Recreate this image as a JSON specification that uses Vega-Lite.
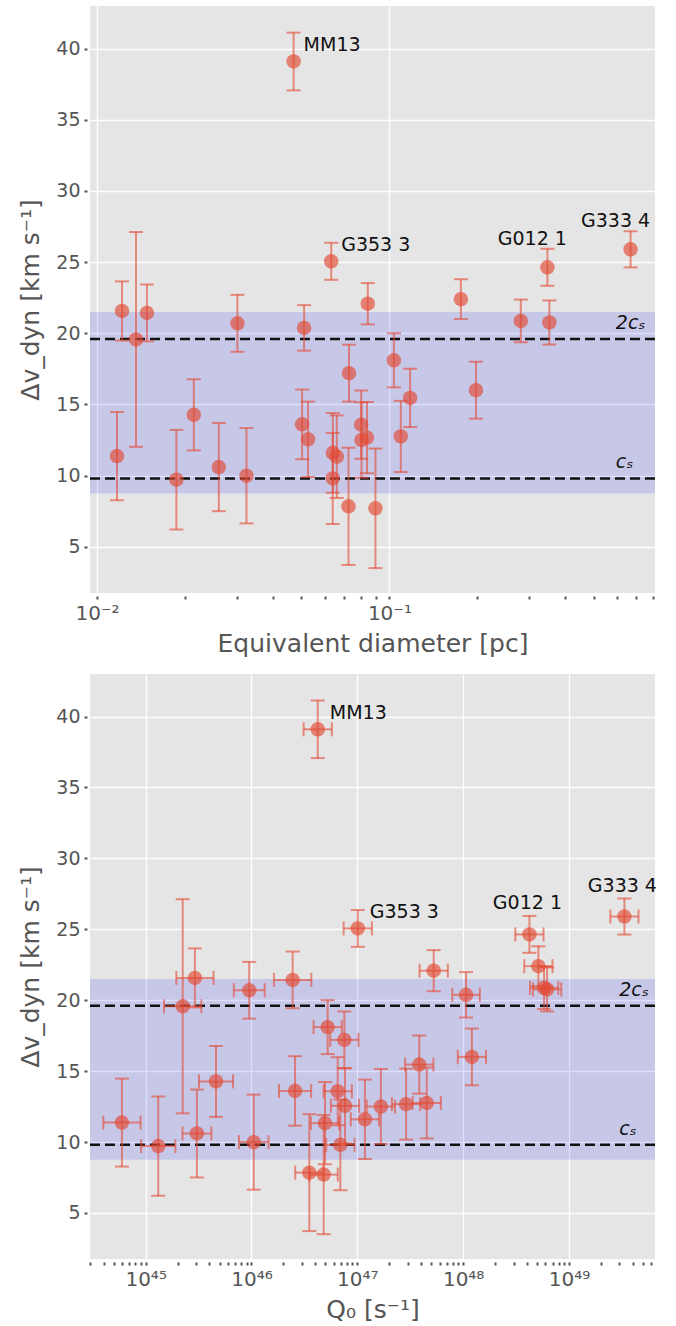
{
  "$schema": "https://vega.github.io/schema/vega-lite/v6.json",
  "background": "white",
  "padding": {"left": 18, "top": 6, "right": 5, "bottom": 5},
  "spacing": 18,
  "config": {
    "font": "DejaVu Sans",
    "view": {"fill": "#e5e5e5", "stroke": null},
    "axis": {
      "labelFont": "DejaVu Sans", "labelFontSize": 19, "labelColor": "#555555",
      "titleFont": "DejaVu Sans", "titleFontSize": 25, "titleFontWeight": "normal", "titleColor": "#555555",
      "domain": false, "gridColor": "#ffffff", "gridWidth": 1.3,
      "tickColor": "#555555", "tickSize": 6, "tickWidth": 2, "tickDash": [0, 3, 2]
    }
  },
  "datasets": {
    "pts": [
      {"d": 0.0117, "Q": 5.97e44, "Qlo": 3.98e44, "Qhi": 8.96e44, "v": 11.37, "vlo": 8.27, "vhi": 14.47, "name": ""},
      {"d": 0.01217, "Q": 2.92e45, "Qlo": 1.95e45, "Qhi": 4.38e45, "v": 21.57, "vlo": 19.49, "vhi": 23.65, "name": ""},
      {"d": 0.01359, "Q": 2.24e45, "Qlo": 1.49e45, "Qhi": 3.36e45, "v": 19.57, "vlo": 12.02, "vhi": 27.12, "name": ""},
      {"d": 0.01481, "Q": 2.45e46, "Qlo": 1.63e46, "Qhi": 3.68e46, "v": 21.43, "vlo": 19.43, "vhi": 23.43, "name": ""},
      {"d": 0.01868, "Q": 1.315e45, "Qlo": 9.07e44, "Qhi": 1.91e45, "v": 9.71, "vlo": 6.21, "vhi": 13.21, "name": ""},
      {"d": 0.02143, "Q": 4.62e45, "Qlo": 3.19e45, "Qhi": 6.70e45, "v": 14.27, "vlo": 11.77, "vhi": 16.77, "name": ""},
      {"d": 0.02609, "Q": 3.05e45, "Qlo": 2.23e45, "Qhi": 4.18e45, "v": 10.6, "vlo": 7.5, "vhi": 13.7, "name": ""},
      {"d": 0.03021, "Q": 9.53e45, "Qlo": 6.81e45, "Qhi": 1.334e46, "v": 20.7, "vlo": 18.7, "vhi": 22.7, "name": ""},
      {"d": 0.03244, "Q": 1.05e46, "Qlo": 7.61e45, "Qhi": 1.449e46, "v": 9.99, "vlo": 6.64, "vhi": 13.34, "name": ""},
      {"d": 0.04703, "Q": 4.23e46, "Qlo": 3.11e46, "Qhi": 5.75e46, "v": 39.1, "vlo": 37.07, "vhi": 41.13, "name": "MM13"},
      {"d": 0.05108, "Q": 1.065e48, "Qlo": 7.89e47, "Qhi": 1.438e48, "v": 20.38, "vlo": 18.78, "vhi": 21.98, "name": ""},
      {"d": 0.05028, "Q": 2.58e46, "Qlo": 1.82e46, "Qhi": 3.66e46, "v": 13.6, "vlo": 11.15, "vhi": 16.05, "name": ""},
      {"d": 0.0527, "Q": 7.65e46, "Qlo": 5.63e46, "Qhi": 1.04e47, "v": 12.55, "vlo": 9.9, "vhi": 15.2, "name": ""},
      {"d": 0.06324, "Q": 1.01e47, "Qlo": 7.43e46, "Qhi": 1.374e47, "v": 25.06, "vlo": 23.76, "vhi": 26.36, "name": "G353 3"},
      {"d": 0.06405, "Q": 1.18e47, "Qlo": 8.68e46, "Qhi": 1.605e47, "v": 11.6, "vlo": 8.8, "vhi": 14.4, "name": ""},
      {"d": 0.06609, "Q": 4.95e46, "Qlo": 3.64e46, "Qhi": 6.73e46, "v": 11.33, "vlo": 8.43, "vhi": 14.23, "name": ""},
      {"d": 0.0640, "Q": 6.91e46, "Qlo": 5.08e46, "Qhi": 9.4e46, "v": 9.8, "vlo": 6.6, "vhi": 13.0, "name": ""},
      {"d": 0.07246, "Q": 3.52e46, "Qlo": 2.59e46, "Qhi": 4.79e46, "v": 7.84, "vlo": 3.72, "vhi": 11.96, "name": ""},
      {"d": 0.07275, "Q": 7.54e46, "Qlo": 5.54e46, "Qhi": 1.025e47, "v": 17.2, "vlo": 15.2, "vhi": 19.2, "name": ""},
      {"d": 0.08009, "Q": 6.53e46, "Qlo": 4.8e46, "Qhi": 8.88e46, "v": 13.58, "vlo": 11.18, "vhi": 15.98, "name": ""},
      {"d": 0.08027, "Q": 1.67e47, "Qlo": 1.228e47, "Qhi": 2.27e47, "v": 12.5, "vlo": 9.85, "vhi": 15.15, "name": ""},
      {"d": 0.08381, "Q": 2.89e47, "Qlo": 2.125e47, "Qhi": 3.93e47, "v": 12.67, "vlo": 10.17, "vhi": 15.17, "name": ""},
      {"d": 0.08434, "Q": 5.27e47, "Qlo": 3.875e47, "Qhi": 7.17e47, "v": 22.08, "vlo": 20.63, "vhi": 23.53, "name": ""},
      {"d": 0.08958, "Q": 4.81e46, "Qlo": 3.54e46, "Qhi": 6.54e46, "v": 7.7, "vlo": 3.5, "vhi": 11.9, "name": ""},
      {"d": 0.1036, "Q": 5.25e46, "Qlo": 3.86e46, "Qhi": 7.14e46, "v": 18.1, "vlo": 16.2, "vhi": 20.0, "name": ""},
      {"d": 0.1094, "Q": 4.53e47, "Qlo": 3.33e47, "Qhi": 6.16e47, "v": 12.75, "vlo": 10.25, "vhi": 15.25, "name": ""},
      {"d": 0.1177, "Q": 3.85e47, "Qlo": 2.83e47, "Qhi": 5.24e47, "v": 15.46, "vlo": 13.41, "vhi": 17.51, "name": ""},
      {"d": 0.1756, "Q": 5.14e48, "Qlo": 3.78e48, "Qhi": 6.99e48, "v": 22.4, "vlo": 21.0, "vhi": 23.8, "name": ""},
      {"d": 0.1977, "Q": 1.21e48, "Qlo": 8.9e47, "Qhi": 1.646e48, "v": 16.0, "vlo": 14.0, "vhi": 18.0, "name": ""},
      {"d": 0.2815, "Q": 5.82e48, "Qlo": 4.28e48, "Qhi": 7.92e48, "v": 20.87, "vlo": 19.37, "vhi": 22.37, "name": ""},
      {"d": 0.347, "Q": 4.23e48, "Qlo": 3.11e48, "Qhi": 5.75e48, "v": 24.64, "vlo": 23.34, "vhi": 25.94, "name": "G012 1"},
      {"d": 0.3525, "Q": 6.21e48, "Qlo": 4.57e48, "Qhi": 8.45e48, "v": 20.76, "vlo": 19.21, "vhi": 22.31, "name": ""},
      {"d": 0.6683, "Q": 3.34e49, "Qlo": 2.46e49, "Qhi": 4.54e49, "v": 25.9, "vlo": 24.63, "vhi": 27.17, "name": "G333 4"}
    ],
    "lines": [
      {"y": 9.8, "label": "cₛ"},
      {"y": 19.6, "label": "2cₛ"}
    ],
    "band": [
      {"lo": 8.75, "hi": 21.5}
    ]
  },
  "vconcat": [
    {
      "width": 565,
      "height": 587,
      "layer": [
        {
          "data": {"name": "band"},
          "mark": {"type": "rect", "color": "#0000ff", "opacity": 0.13},
          "encoding": {
            "y": {"field": "lo", "type": "quantitative"},
            "y2": {"field": "hi"}
          }
        },
        {
          "data": {"name": "lines"},
          "mark": {"type": "rule", "color": "#111111", "strokeWidth": 2.5, "strokeDash": [10, 5]},
          "encoding": {"y": {"field": "y", "type": "quantitative"}}
        },
        {
          "data": {"name": "lines"},
          "mark": {"type": "text", "align": "left", "baseline": "alphabetic", "dy": -10, "fontSize": 19, "fontStyle": "italic", "color": "#111111"},
          "encoding": {
            "x": {"datum": 0.595, "type": "quantitative"},
            "y": {"field": "y", "type": "quantitative"},
            "text": {"field": "label"}
          }
        },
        {
          "data": {"name": "pts"},
          "mark": {"type": "rule", "color": "#E24A33", "opacity": 0.6, "strokeWidth": 2},
          "encoding": {
            "x": {"field": "d", "type": "quantitative"},
            "y": {"field": "vlo", "type": "quantitative"},
            "y2": {"field": "vhi"}
          }
        },
        {
          "data": {"name": "pts"},
          "mark": {"type": "tick", "orient": "horizontal", "size": 14, "thickness": 2, "color": "#E24A33", "opacity": 0.6},
          "encoding": {
            "x": {"field": "d", "type": "quantitative"},
            "y": {"field": "vhi", "type": "quantitative"}
          }
        },
        {
          "data": {"name": "pts"},
          "mark": {"type": "tick", "orient": "horizontal", "size": 14, "thickness": 2, "color": "#E24A33", "opacity": 0.6},
          "encoding": {
            "x": {"field": "d", "type": "quantitative"},
            "y": {"field": "vlo", "type": "quantitative"}
          }
        },
        {
          "data": {"name": "pts"},
          "mark": {"type": "circle", "size": 210, "color": "#E24A33", "opacity": 0.65},
          "encoding": {
            "x": {
              "field": "d", "type": "quantitative",
              "scale": {"type": "log", "domain": [0.00946, 0.81], "nice": false},
              "axis": {
                "title": "Equivalent diameter [pc]",
                "values": [0.01, 0.02, 0.03, 0.04, 0.05, 0.06, 0.07, 0.08, 0.09, 0.1, 0.2, 0.3, 0.4, 0.5, 0.6, 0.7, 0.8],
                "labelExpr": "datum.value == 0.01 ? '10⁻²' : (datum.value == 0.1 ? '10⁻¹' : '')",
                "grid": true,
                "gridOpacity": {"condition": {"test": "datum.value == 0.01 || datum.value == 0.1", "value": 1}, "value": 0},
                "labelOverlap": false, "labelFlush": false, "labelBound": false,
                "labelFontSize": 20, "labelPadding": 4, "titlePadding": 8
              }
            },
            "y": {
              "field": "v", "type": "quantitative",
              "scale": {"domain": [1.75, 43], "nice": false, "zero": false},
              "axis": {
                "title": "Δv_dyn [km s⁻¹]",
                "values": [5, 10, 15, 20, 25, 30, 35, 40],
                "grid": true, "labelPadding": 4, "titlePadding": 12
              }
            }
          }
        },
        {
          "data": {"name": "pts"},
          "transform": [{"filter": "datum.name == 'MM13' || datum.name == 'G353 3'"}],
          "mark": {"type": "text", "align": "left", "baseline": "middle", "dx": 10, "dy": -16, "fontSize": 19, "color": "#111111"},
          "encoding": {
            "x": {"field": "d", "type": "quantitative"},
            "y": {"field": "v", "type": "quantitative"},
            "text": {"field": "name"}
          }
        },
        {
          "data": {"name": "pts"},
          "transform": [{"filter": "datum.name == 'G012 1' || datum.name == 'G333 4'"}],
          "mark": {"type": "text", "align": "center", "baseline": "middle", "dx": -15, "dy": -28, "fontSize": 19, "color": "#111111"},
          "encoding": {
            "x": {"field": "d", "type": "quantitative"},
            "y": {"field": "v", "type": "quantitative"},
            "text": {"field": "name"}
          }
        }
      ]
    },
    {
      "width": 565,
      "height": 585,
      "layer": [
        {
          "data": {"name": "band"},
          "mark": {"type": "rect", "color": "#0000ff", "opacity": 0.13},
          "encoding": {
            "y": {"field": "lo", "type": "quantitative"},
            "y2": {"field": "hi"}
          }
        },
        {
          "data": {"name": "lines"},
          "mark": {"type": "rule", "color": "#111111", "strokeWidth": 2.5, "strokeDash": [10, 5]},
          "encoding": {"y": {"field": "y", "type": "quantitative"}}
        },
        {
          "data": {"name": "lines"},
          "mark": {"type": "text", "align": "left", "baseline": "alphabetic", "dy": -10, "fontSize": 19, "fontStyle": "italic", "color": "#111111"},
          "encoding": {
            "x": {"datum": 2.98e49, "type": "quantitative"},
            "y": {"field": "y", "type": "quantitative"},
            "text": {"field": "label"}
          }
        },
        {
          "data": {"name": "pts"},
          "mark": {"type": "rule", "color": "#E24A33", "opacity": 0.6, "strokeWidth": 2},
          "encoding": {
            "x": {"field": "Q", "type": "quantitative"},
            "y": {"field": "vlo", "type": "quantitative"},
            "y2": {"field": "vhi"}
          }
        },
        {
          "data": {"name": "pts"},
          "mark": {"type": "rule", "color": "#E24A33", "opacity": 0.6, "strokeWidth": 2},
          "encoding": {
            "x": {"field": "Qlo", "type": "quantitative"},
            "x2": {"field": "Qhi"},
            "y": {"field": "v", "type": "quantitative"}
          }
        },
        {
          "data": {"name": "pts"},
          "mark": {"type": "tick", "orient": "horizontal", "size": 14, "thickness": 2, "color": "#E24A33", "opacity": 0.6},
          "encoding": {
            "x": {"field": "Q", "type": "quantitative"},
            "y": {"field": "vhi", "type": "quantitative"}
          }
        },
        {
          "data": {"name": "pts"},
          "mark": {"type": "tick", "orient": "horizontal", "size": 14, "thickness": 2, "color": "#E24A33", "opacity": 0.6},
          "encoding": {
            "x": {"field": "Q", "type": "quantitative"},
            "y": {"field": "vlo", "type": "quantitative"}
          }
        },
        {
          "data": {"name": "pts"},
          "mark": {"type": "tick", "orient": "vertical", "size": 14, "thickness": 2, "color": "#E24A33", "opacity": 0.6},
          "encoding": {
            "x": {"field": "Qlo", "type": "quantitative"},
            "y": {"field": "v", "type": "quantitative"}
          }
        },
        {
          "data": {"name": "pts"},
          "mark": {"type": "tick", "orient": "vertical", "size": 14, "thickness": 2, "color": "#E24A33", "opacity": 0.6},
          "encoding": {
            "x": {"field": "Qhi", "type": "quantitative"},
            "y": {"field": "v", "type": "quantitative"}
          }
        },
        {
          "data": {"name": "pts"},
          "mark": {"type": "circle", "size": 210, "color": "#E24A33", "opacity": 0.65},
          "encoding": {
            "x": {
              "field": "Q", "type": "quantitative",
              "scale": {"type": "log", "domain": [2.98e44, 6.5e49], "nice": false},
              "axis": {
                "title": "Q₀ [s⁻¹]",
                "values": [3e44, 4e44, 5e44, 6e44, 7e44, 8e44, 9e44, 1e45, 2e45, 3e45, 4e45, 5e45, 6e45, 7e45, 8e45, 9e45, 1e46, 2e46, 3e46, 4e46, 5e46, 6e46, 7e46, 8e46, 9e46, 1e47, 2e47, 3e47, 4e47, 5e47, 6e47, 7e47, 8e47, 9e47, 1e48, 2e48, 3e48, 4e48, 5e48, 6e48, 7e48, 8e48, 9e48, 1e49, 2e49, 3e49, 4e49, 5e49, 6e49],
                "labelExpr": "datum.value == 1e45 ? '10⁴⁵' : (datum.value == 1e46 ? '10⁴⁶' : (datum.value == 1e47 ? '10⁴⁷' : (datum.value == 1e48 ? '10⁴⁸' : (datum.value == 1e49 ? '10⁴⁹' : ''))))",
                "grid": true,
                "gridOpacity": {"condition": {"test": "datum.value == 1e45 || datum.value == 1e46 || datum.value == 1e47 || datum.value == 1e48 || datum.value == 1e49", "value": 1}, "value": 0},
                "labelOverlap": false, "labelFlush": false, "labelBound": false,
                "labelFontSize": 20, "labelPadding": 4, "titlePadding": 8
              }
            },
            "y": {
              "field": "v", "type": "quantitative",
              "scale": {"domain": [1.75, 43], "nice": false, "zero": false},
              "axis": {
                "title": "Δv_dyn [km s⁻¹]",
                "values": [5, 10, 15, 20, 25, 30, 35, 40],
                "grid": true, "labelPadding": 4, "titlePadding": 12
              }
            }
          }
        },
        {
          "data": {"name": "pts"},
          "transform": [{"filter": "datum.name == 'MM13' || datum.name == 'G353 3'"}],
          "mark": {"type": "text", "align": "left", "baseline": "middle", "dx": 12, "dy": -16, "fontSize": 19, "color": "#111111"},
          "encoding": {
            "x": {"field": "Q", "type": "quantitative"},
            "y": {"field": "v", "type": "quantitative"},
            "text": {"field": "name"}
          }
        },
        {
          "data": {"name": "pts"},
          "transform": [{"filter": "datum.name == 'G012 1' || datum.name == 'G333 4'"}],
          "mark": {"type": "text", "align": "center", "baseline": "middle", "dx": -2, "dy": -31, "fontSize": 19, "color": "#111111"},
          "encoding": {
            "x": {"field": "Q", "type": "quantitative"},
            "y": {"field": "v", "type": "quantitative"},
            "text": {"field": "name"}
          }
        }
      ]
    }
  ]
}
